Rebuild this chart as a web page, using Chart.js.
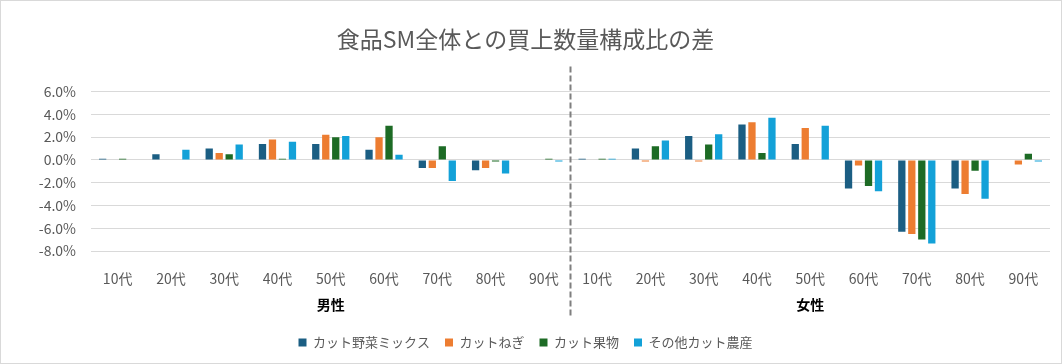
<!DOCTYPE html>
<html>
<head>
<meta charset="utf-8">
<script src="https://cdn.jsdelivr.net/npm/chart.js@4/dist/chart.umd.min.js"></script>
<style>
  html, body { margin: 0; padding: 0; background: #fff; }
  #wrap { width: 1060px; height: 362px; border: 1px solid #d9d9d9; }
</style>
</head>
<body>
<div id="wrap"><canvas id="chart" width="1060" height="362"></canvas></div>
<script>
const ages = ["10代", "20代", "30代", "40代", "50代", "60代", "70代", "80代", "90代"];
const groups = ["男性", "女性"];
const seriesNames = ["カット野菜ミックス", "カットねぎ", "カット果物", "その他カット農産"];
const colors = ["#1B5E83", "#ED7D31", "#1D6B25", "#13A1D8"];

// 男性 9件 + 女性 9件 (%)
const yasaiMix = [0.1, 0.5, 1.0, 1.4, 1.4, 0.9, -0.7, -0.9, 0,   0.1, 1.0, 2.1, 3.1, 1.4, -2.5, -6.3, -2.5, 0];
const negi     = [0, 0, 0.6, 1.8, 2.2, 2.0, -0.7, -0.7, 0,       0, -0.15, -0.15, 3.3, 2.8, -0.5, -6.5, -3.0, -0.4];
const kudamono = [0.1, 0, 0.5, 0.1, 2.0, 3.0, 1.2, -0.15, 0.1,   0.1, 1.2, 1.35, 0.6, 0, -2.3, -7.0, -0.95, 0.55];
const sonota   = [0, 0.9, 1.35, 1.6, 2.1, 0.45, -1.85, -1.2, -0.15, 0.1, 1.7, 2.25, 3.7, 3.0, -2.75, -7.35, -3.4, -0.15];

const yTicks = { min: -8, max: 6, step: 2 };

const labels = ages.concat(ages);
const values = [yasaiMix, negi, kudamono, sonota];
const font = "'Noto Sans CJK JP', 'Noto Sans', sans-serif";

// 男性/女性 の見出しと区切り線
const groupPlugin = {
    id: "groupLabels",
    afterDraw(chart) {
        const ctx = chart.ctx;
        const x = chart.scales.x;
        const area = chart.chartArea;
        const n = ages.length;
        const sep = (x.getPixelForValue(n - 1) + x.getPixelForValue(n)) / 2;

        ctx.save();
        ctx.strokeStyle = "#7f7f7f";
        ctx.lineWidth = 2;
        ctx.setLineDash([6, 3]);
        ctx.beginPath();
        ctx.moveTo(sep, area.top - 25);
        ctx.lineTo(sep, area.bottom + 67);
        ctx.stroke();

        ctx.setLineDash([]);
        ctx.fillStyle = "#000";
        ctx.font = "bold 14px " + font;
        ctx.textAlign = "center";
        ctx.textBaseline = "middle";
        groups.forEach(function (g, i) {
            const cx = (x.getPixelForValue(i * n) + x.getPixelForValue(i * n + n - 1)) / 2;
            ctx.fillText(g, cx, area.bottom + 54);
        });
        ctx.restore();
    }
};

new Chart(document.getElementById("chart").getContext("2d"), {
    type: "bar",
    data: {
        labels: labels,
        datasets: seriesNames.map(function (name, i) {
            return {
                label: name,
                data: values[i],
                backgroundColor: colors[i],
                categoryPercentage: 0.75,
                barPercentage: 0.73
            };
        })
    },
    options: {
        responsive: false,
        animation: false,
        layout: { padding: { left: 0, right: 11, top: 0, bottom: 4 } },
        plugins: {
            title: {
                display: true,
                text: "食品SM全体との買上数量構成比の差",
                color: "#595959",
                font: { family: font, size: 23, weight: "normal" },
                padding: { top: 24, bottom: 39 }
            },
            legend: {
                position: "bottom",
                labels: {
                    color: "#595959",
                    font: { family: font, size: 13 },
                    boxWidth: 8,
                    boxHeight: 8,
                    padding: 15
                }
            },
            tooltip: { enabled: false }
        },
        scales: {
            x: {
                grid: { display: false, drawTicks: false },
                border: { display: false },
                ticks: { color: "#595959", font: { family: font, size: 14 }, padding: 19, maxRotation: 0, autoSkip: false },
                afterFit: function (s) { s.height = 70; }
            },
            y: {
                min: yTicks.min,
                max: yTicks.max,
                grid: { color: "#d9d9d9", drawTicks: false },
                border: { display: false },
                ticks: {
                    stepSize: yTicks.step,
                    color: "#595959",
                    font: { family: font, size: 14 },
                    padding: 15,
                    callback: function (v) { return v.toFixed(1) + "%"; }
                },
                afterFit: function (s) { s.width = 90; }
            }
        }
    },
    plugins: [groupPlugin]
});
</script>
</body>
</html>
